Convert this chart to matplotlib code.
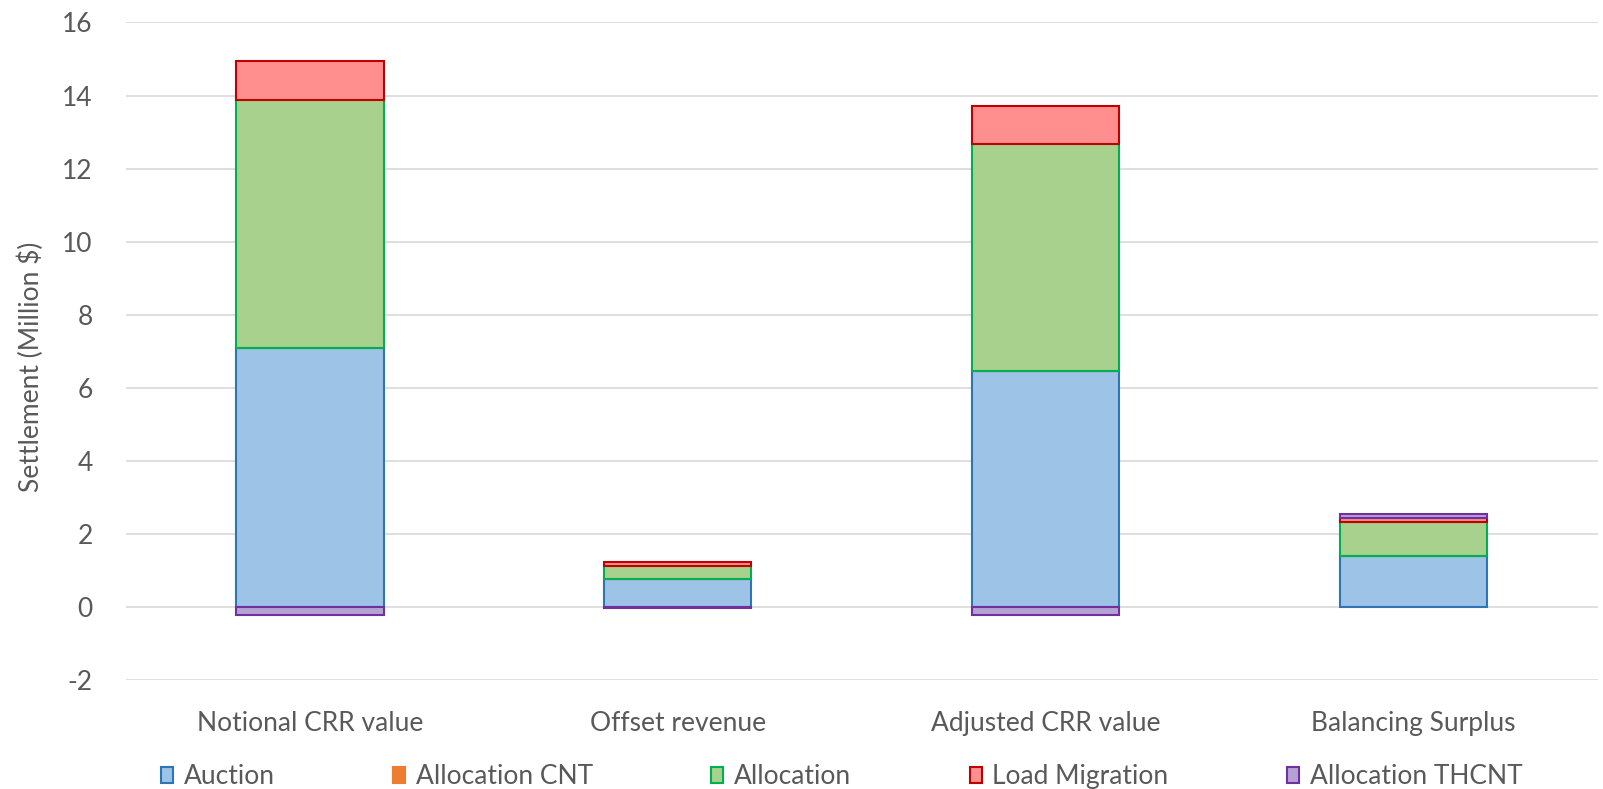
import matplotlib.pyplot as plt
import numpy as np

categories = ["Notional CRR value", "Offset revenue", "Adjusted CRR value", "Balancing Surplus"]
auction = [7.08, 0.77, 6.45, 1.40]
allocation_cnt = [0.0, 0.0, 0.0, 0.0]
allocation = [6.79, 0.35, 6.22, 0.93]
load_migration = [1.07, 0.11, 1.04, 0.11]
allocation_thcnt = [-0.21, -0.02, -0.21, 0.11]

series = [
    ("Auction", auction, "#9DC3E6", "#2E75B6"),
    ("Allocation CNT", allocation_cnt, "#ED7D31", "#ED7D31"),
    ("Allocation", allocation, "#A9D18E", "#00B050"),
    ("Load Migration", load_migration, "#FF8F8F", "#C00000"),
    ("Allocation THCNT", allocation_thcnt, "#B4A2D4", "#7030A0"),
]

plt.rcParams["font.family"] = ["Lato", "DejaVu Sans"]
plt.rcParams["axes.unicode_minus"] = False

fig = plt.figure(figsize=(16.03, 7.89), dpi=100)
ax = fig.add_axes([0.0786, 0.138, 0.918, 0.8335])

x = np.arange(len(categories))
pos_bottom = np.zeros(len(categories))
neg_bottom = np.zeros(len(categories))

# stack positives upward and negatives downward from zero
for name, vals, fc, ec in series:
    vals = np.array(vals)
    bottoms = np.where(vals >= 0, pos_bottom, neg_bottom)
    ax.bar(x, vals, 0.4, bottom=bottoms, color=fc, edgecolor=ec,
           linewidth=1.5, label=name, zorder=3)
    pos_bottom += np.where(vals >= 0, vals, 0)
    neg_bottom += np.where(vals < 0, vals, 0)

ax.set_xlim(-0.5, 3.5)
ax.set_ylim(-2, 16)
ax.set_yticks(range(-2, 17, 2))
ax.set_xticks(x)
ax.set_xticklabels(categories)
ax.grid(axis="y", color="#D9D9D9", linewidth=1.2, zorder=0)
ax.set_axisbelow(True)
for s in ax.spines.values():
    s.set_visible(False)
ax.tick_params(length=0, labelsize=19, colors="#595959")
ax.tick_params(axis="x", pad=22)
ax.tick_params(axis="y", pad=24)
ax.set_ylabel("Settlement (Million $)", fontsize=19, color="#595959")
ax.yaxis.set_label_coords(-0.056, 0.476)

fig.legend(loc="lower center", bbox_to_anchor=(0.525, -0.02), ncol=5, frameon=False,
           fontsize=19, labelcolor="#595959", columnspacing=4.5, handlelength=0.45,
           handleheight=0.55, handletextpad=0.4, borderaxespad=0.2)

fig.savefig("out.png", dpi=100)
